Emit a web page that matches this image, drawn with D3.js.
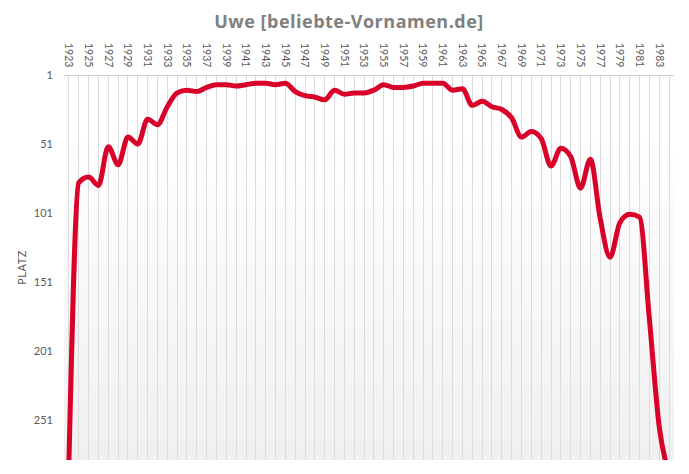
<!DOCTYPE html>
<html>
<head>
<meta charset="utf-8">
<script src="https://cdn.jsdelivr.net/npm/d3@7"></script>
<style>
  html, body { margin: 0; padding: 0; background: #fff; }
  svg { display: block; font-family: Lato, "Open Sans", sans-serif; }
</style>
</head>
<body>
<svg id="chart" width="689" height="474"></svg>
<script>
const title = "Uwe [beliebte-Vornamen.de]";
const yAxisLabel = "PLATZ";
const years = d3.range(1923, 1985);
const ranks = [282, 79, 75, 81, 53, 66, 46, 51, 33, 37,
               24, 14, 12, 13, 10, 8, 8, 9, 8, 7,
               7, 8, 7, 13, 16, 17, 19, 12, 15, 14,
               14, 12, 8, 10, 10, 9, 7, 7, 7, 12,
               11, 23, 20, 24, 26, 32, 46, 42, 47, 67,
               54, 60, 83, 62, 105, 133, 108, 102, 104, 178,
               256, 290];
const yTicks = [1, 51, 101, 151, 201, 251];
const xTickYears = years.filter(y => (y - 1923) % 2 === 0);

const data = years.map((y, i) => ({ year: y, rank: ranks[i] }));

const svg = d3.select("#chart");
const pL = 64, pR = 674, pT = 75, pB = 460;

const x = d3.scalePoint().domain(years).range([pL, pR]).padding(0.5);
const y = d3.scaleLinear().domain([1, 280]).range([pT, pB]);

const defs = svg.append("defs");
const grad = defs.append("linearGradient").attr("id", "bg").attr("x1", 0).attr("y1", 0).attr("x2", 0).attr("y2", 1);
grad.append("stop").attr("offset", "0%").attr("stop-color", "#ffffff");
grad.append("stop").attr("offset", "15%").attr("stop-color", "#ffffff");
grad.append("stop").attr("offset", "100%").attr("stop-color", "#f0f0f0");
defs.append("clipPath").attr("id", "clip").append("rect")
  .attr("x", pL).attr("y", pT).attr("width", pR - pL).attr("height", pB - pT);

svg.append("rect").attr("x", pL).attr("y", pT).attr("width", pR - pL).attr("height", pB - pT)
  .attr("fill", "url(#bg)");

// vertical gridlines
svg.append("g").selectAll("line").data(years).join("line")
  .attr("x1", d => x(d)).attr("x2", d => x(d))
  .attr("y1", pT).attr("y2", pB)
  .attr("stroke", "#dcdcdc").attr("stroke-width", 1).attr("shape-rendering", "crispEdges");

// top axis line
svg.append("line").attr("x1", pL).attr("x2", pR).attr("y1", pT).attr("y2", pT)
  .attr("stroke", "#d0d0d0").attr("stroke-width", 1).attr("shape-rendering", "crispEdges");

// x tick labels (top, rotated)
svg.append("g").selectAll("text").data(xTickYears).join("text")
  .attr("transform", d => `translate(${x(d)},43) rotate(90)`)
  .attr("dy", "0.35em")
  .attr("text-anchor", "start")
  .attr("font-size", "10.5px")
  .attr("fill", "#595959")
  .text(d => d);

// y tick labels
svg.append("g").selectAll("text").data(yTicks).join("text")
  .attr("x", 53).attr("y", d => y(d))
  .attr("dy", "0.35em")
  .attr("text-anchor", "end")
  .attr("font-size", "11px")
  .attr("fill", "#595959")
  .text(d => d);

// y axis title
svg.append("text")
  .attr("transform", `translate(26,${(pT + pB) / 2}) rotate(-90)`)
  .attr("text-anchor", "middle")
  .attr("font-size", "11px")
  .attr("fill", "#595959")
  .attr("letter-spacing", "0.5px")
  .text(yAxisLabel);

// title
svg.append("text")
  .attr("x", 349).attr("y", 28)
  .attr("text-anchor", "middle")
  .attr("font-family", "'Open Sans', sans-serif")
  .attr("font-size", "18px")
  .attr("font-weight", "bold")
  .attr("letter-spacing", "0.5px")
  .attr("fill", "#808080")
  .text(title);

// line
const line = d3.line()
  .x(d => x(d.year))
  .y(d => y(d.rank))
  .curve(d3.curveMonotoneX);

svg.append("g").attr("clip-path", "url(#clip)")
  .append("path").datum(data)
  .attr("d", line)
  .attr("fill", "none")
  .attr("stroke", "#d9002a")
  .attr("stroke-width", 5)
  .attr("stroke-linejoin", "round")
  .attr("stroke-linecap", "round");
</script>
</body>
</html>
